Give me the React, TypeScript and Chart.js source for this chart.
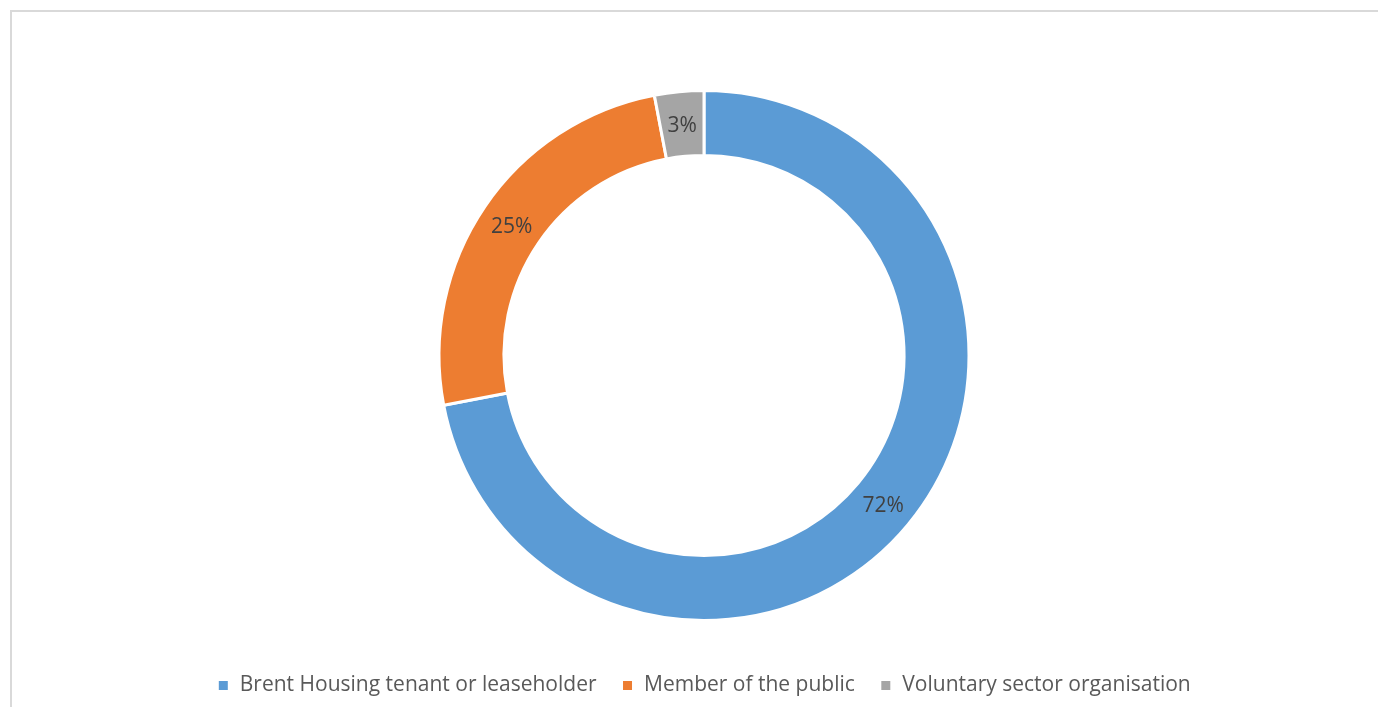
import React, { useEffect, useRef } from "react";
import { Chart, registerables } from "chart.js";

Chart.register(...registerables);

const categories = ["Brent Housing tenant or leaseholder", "Member of the public", "Voluntary sector organisation"];
const shares = [72, 25, 3];
const colors = ["#5B9BD5", "#ED7D31", "#A5A5A5"];

const FONT = "'Open Sans', 'DejaVu Sans', sans-serif";

const labelPlugin = {
  id: "sliceLabels",
  afterDatasetsDraw(chart: any) {
    const ctx = chart.ctx;
    const meta = chart.getDatasetMeta(0);
    ctx.save();
    ctx.font = `21px ${FONT}`;
    ctx.fillStyle = "#404040";
    ctx.textAlign = "center";
    ctx.textBaseline = "middle";
    meta.data.forEach((arc: any, i: number) => {
      const p = arc.tooltipPosition();
      ctx.fillText(`${shares[i]}%`, p.x, p.y + 2);
    });
    ctx.restore();
  },
};

export default function App() {
  const ref = useRef<HTMLCanvasElement | null>(null);
  useEffect(() => {
    if (!ref.current) return;
    const chart = new Chart(ref.current, {
      type: "doughnut",
      data: {
        labels: categories,
        datasets: [
          {
            data: shares,
            backgroundColor: colors,
            borderColor: "#ffffff",
            borderWidth: 3,
            radius: 265,
            cutout: "75.5%",
          },
        ],
      },
      options: {
        animation: false,
        responsive: true,
        maintainAspectRatio: false,
        layout: { padding: { left: 18, right: 0, top: 49, bottom: 1 } },
        plugins: {
          tooltip: { enabled: false },
          legend: {
            position: "bottom",
            labels: {
              boxWidth: 12,
              boxHeight: 12,
              padding: 25,
              color: "#595959",
              font: { family: FONT, size: 21 },
            },
          },
        },
      },
      plugins: [labelPlugin],
    });
    return () => chart.destroy();
  }, []);
  return (
    <div
      style={{
        position: "fixed",
        left: 10,
        top: 10,
        width: 1400,
        height: 720,
        border: "2px solid #d9d9d9",
        background: "#fff",
        boxSizing: "border-box",
      }}
    >
      <div style={{ position: "absolute", left: 0, top: 0, width: 1366, height: 695 }}>
        <canvas ref={ref} />
      </div>
    </div>
  );
}
